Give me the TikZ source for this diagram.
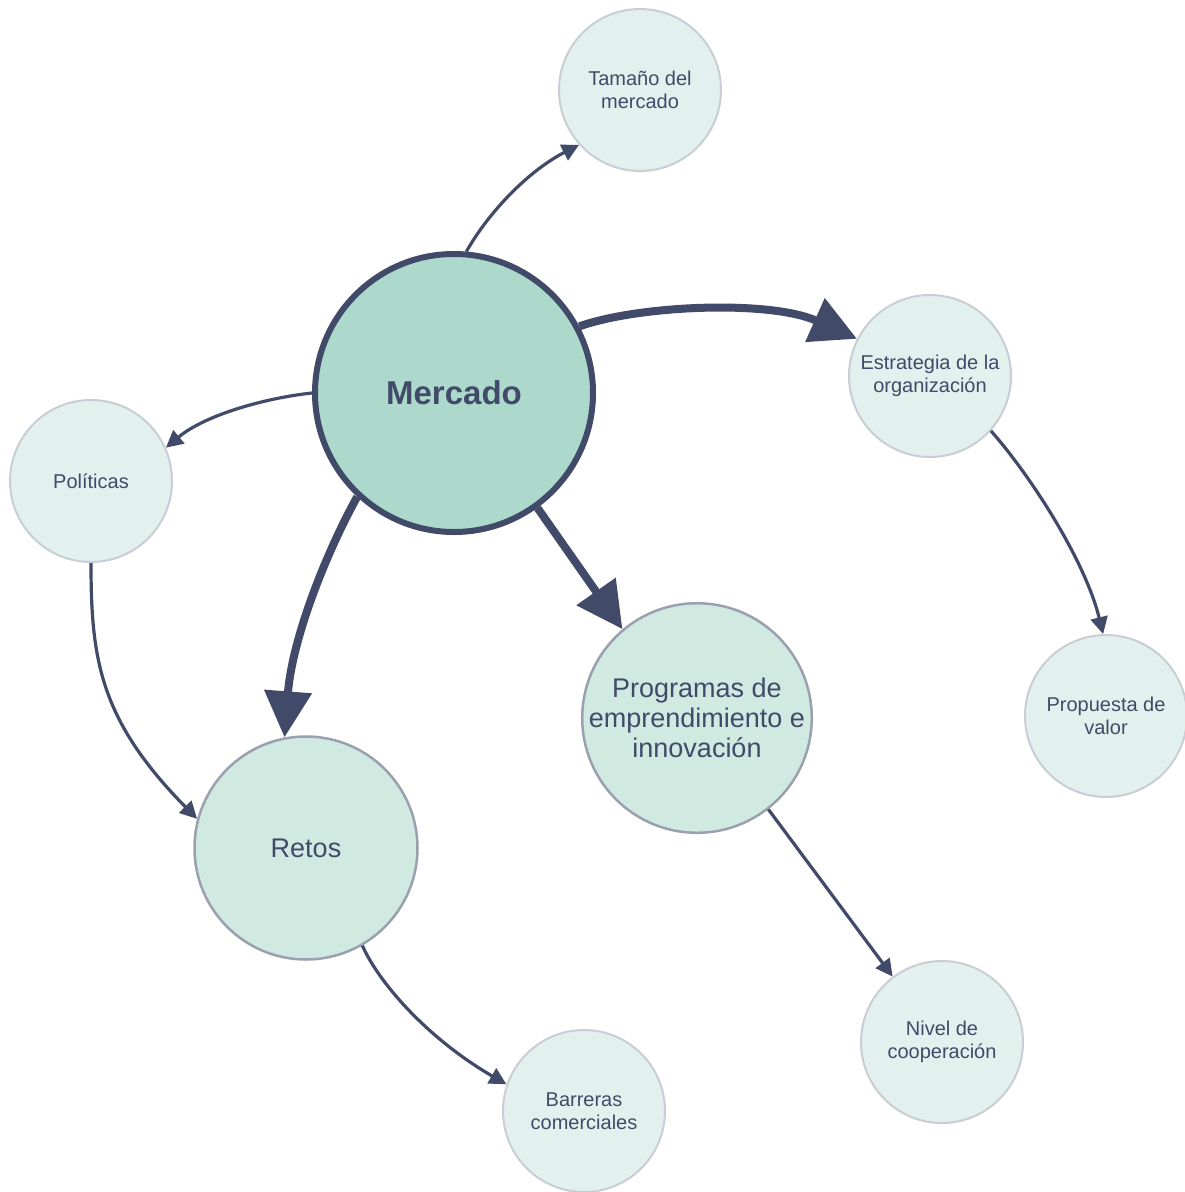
\documentclass[tikz,border=0pt]{standalone}
\usepackage{fontspec}
\setmainfont{Liberation Sans}
\usetikzlibrary{arrows.meta}
\definecolor{ink}{HTML}{414A69}
\definecolor{mainfill}{HTML}{ACD9CC}
\definecolor{midfill}{HTML}{D0EAE2}
\definecolor{midline}{HTML}{9AA0AE}
\definecolor{smallfill}{HTML}{E2F1ED}
\definecolor{smallline}{HTML}{C9CDD5}
\tikzset{
  mainnode/.style={circle, draw=ink, fill=mainfill, line width=6pt, minimum size=278pt, inner sep=0pt, text=ink, font=\fontsize{33}{38}\selectfont\bfseries, align=center},
  midnode/.style={circle, draw=midline, fill=midfill, line width=2.5pt, minimum size=223pt, inner sep=0pt, text=ink, font=\fontsize{27}{30}\selectfont, align=center},
  smallnode/.style={circle, draw=smallline, fill=smallfill, line width=2pt, minimum size=162pt, inner sep=0pt, text=ink, font=\fontsize{20}{22.5}\selectfont, align=center},
  thickarrow/.style={draw=ink, line width=8pt, -{Triangle[length=46pt, width=46pt]}},
  thinarrow/.style={draw=ink, line width=3.2pt, -{Triangle[length=17pt, width=17pt]}},
}
\begin{document}
\begin{tikzpicture}[x=1pt, y=-1pt]
\useasboundingbox (0,0) rectangle (1184,1192);
\node[mainnode] (mer) at (454,393) {Mercado};
\node[smallnode] (tam) at (640,90) {Tamaño del\\mercado};
\node[smallnode] (est) at (930,376) {Estrategia de la\\organización};
\node[smallnode] (pol) at (91,481) {Políticas};
\node[smallnode] (prop) at (1106,716) {Propuesta de\\valor};
\node[midnode] (prog) at (697,718) {Programas de\\emprendimiento e\\innovación};
\node[midnode] (ret) at (306,848) {Retos};
\node[smallnode] (niv) at (942,1042) {Nivel de\\cooperación};
\node[smallnode] (bar) at (584,1111) {Barreras\\comerciales};

\draw[thinarrow] (mer.85) .. controls (490,210) and (530,170) .. (tam.222);
\draw[thickarrow] (mer.28) .. controls (640,305) and (770,300) .. (est.153);
\draw[thinarrow] (mer.180) .. controls (265,398) and (205,415) .. (pol.24);
\draw[thickarrow] (mer.227) .. controls (325,555) and (292,640) .. (ret.101);
\draw[thickarrow] (mer.-54) -- (prog.130);
\draw[thinarrow] (pol.-90) .. controls (91,660) and (100,720) .. (ret.165);
\draw[thinarrow] (est.-42) .. controls (1030,475) and (1085,560) .. (prop.92);
\draw[thinarrow] (ret.-60) .. controls (380,985) and (430,1040) .. (bar.161);
\draw[thinarrow] (prog.-52) -- (niv.127);
\end{tikzpicture}
\end{document}
